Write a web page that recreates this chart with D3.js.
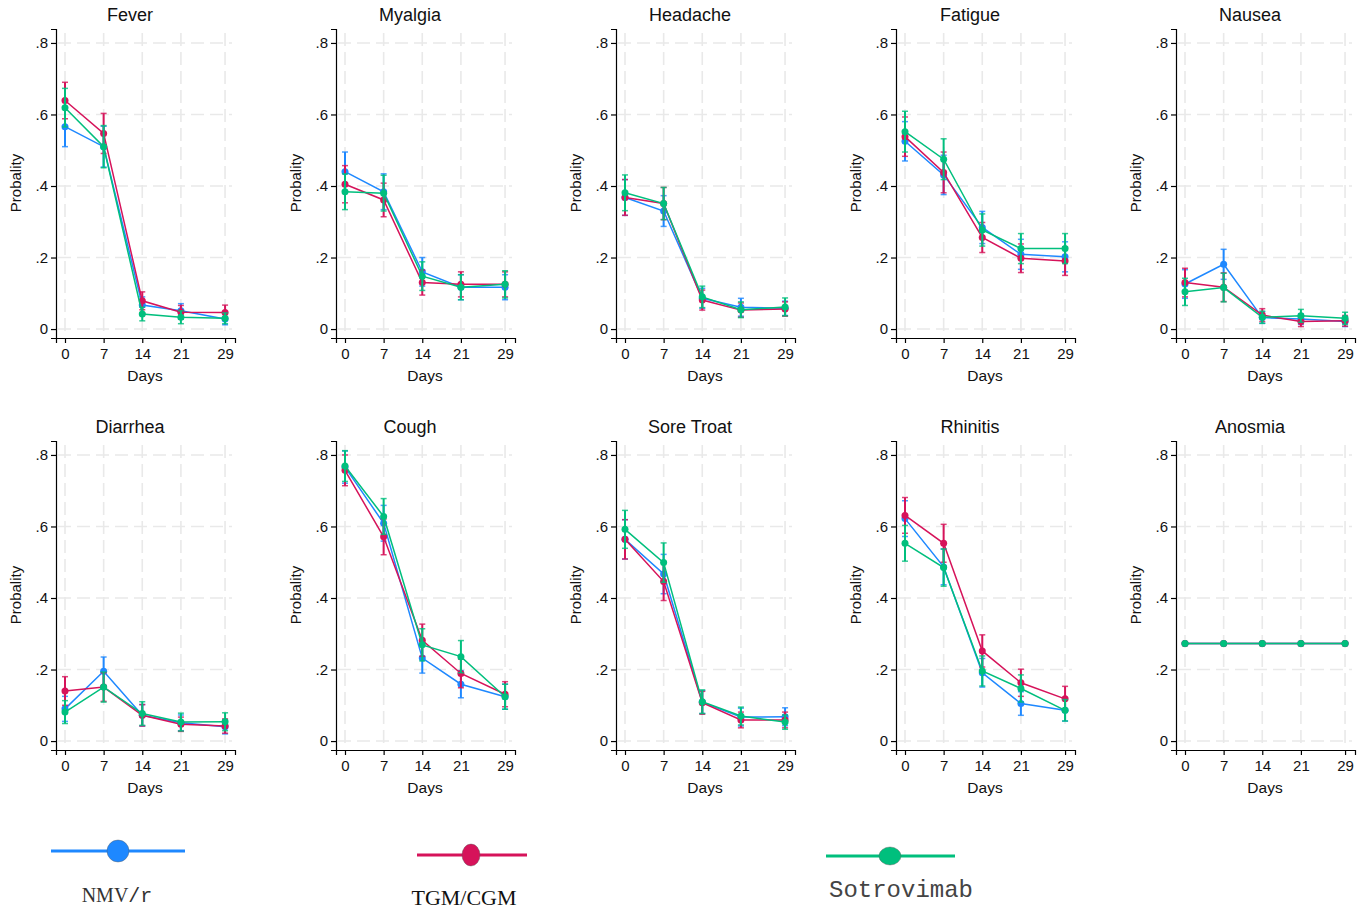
<!DOCTYPE html>
<html lang="en">
<head>
<meta charset="UTF-8">
<title>Symptom probability by day</title>
<style>
  body { margin: 0; background: #fff; }
  svg { display: block; }
  .tick text { font-family: "Liberation Sans", Arial, sans-serif; font-size: 15px; fill: #111; }
  .title { font-family: "Liberation Sans", Arial, sans-serif; font-size: 18px; fill: #111; }
  .lab { font-family: "Liberation Sans", Arial, sans-serif; font-size: 15px; fill: #111; }
</style>
</head>
<body>
<svg width="1365" height="909"></svg>
<script src="https://d3js.org/d3.v7.min.js"></script>
<script>
// symptoms shown as panels, days on x
const symptoms = ["Fever", "Myalgia", "Headache", "Fatigue", "Nausea",
                  "Diarrhea", "Cough", "Sore Troat", "Rhinitis", "Anosmia"];
const days = [0, 7, 14, 21, 29];
const yTicks = [0, 0.2, 0.4, 0.6, 0.8];
const groups = ["NMV/r", "TGM/CGM", "Sotrovimab"];
const colors = ["#1e88ff", "#d6135a", "#00bf7d"];

// estimated probability per symptom (rows) and day (cols)
const nmvMean = [
  [0.566, 0.510, 0.067, 0.051, 0.028],
  [0.440, 0.384, 0.160, 0.117, 0.117],
  [0.368, 0.330, 0.086, 0.061, 0.058],
  [0.525, 0.431, 0.284, 0.209, 0.202],
  [0.126, 0.181, 0.032, 0.028, 0.021],
  [0.090, 0.195, 0.072, 0.051, 0.040],
  [0.766, 0.609, 0.232, 0.159, 0.124],
  [0.564, 0.467, 0.109, 0.067, 0.068],
  [0.622, 0.487, 0.191, 0.105, 0.086],
  [0.273, 0.273, 0.273, 0.273, 0.273]
];
const nmvErr = [
  [0.056, 0.057, 0.023, 0.020, 0.016],
  [0.055, 0.050, 0.040, 0.035, 0.035],
  [0.050, 0.043, 0.028, 0.025, 0.020],
  [0.055, 0.055, 0.045, 0.042, 0.042],
  [0.040, 0.042, 0.016, 0.015, 0.014],
  [0.035, 0.040, 0.030, 0.022, 0.020],
  [0.045, 0.050, 0.042, 0.038, 0.035],
  [0.055, 0.055, 0.032, 0.025, 0.025],
  [0.050, 0.050, 0.040, 0.033, 0.030],
  [0, 0, 0, 0, 0]
];
const tgmMean = [
  [0.639, 0.547, 0.079, 0.047, 0.046],
  [0.405, 0.361, 0.130, 0.125, 0.125],
  [0.368, 0.351, 0.081, 0.053, 0.056],
  [0.538, 0.438, 0.256, 0.198, 0.190],
  [0.130, 0.117, 0.039, 0.021, 0.023],
  [0.140, 0.151, 0.072, 0.047, 0.042],
  [0.757, 0.571, 0.282, 0.189, 0.131],
  [0.564, 0.446, 0.107, 0.059, 0.059],
  [0.631, 0.553, 0.252, 0.163, 0.118],
  [0.273, 0.273, 0.273, 0.273, 0.273]
];
const tgmErr = [
  [0.051, 0.056, 0.025, 0.019, 0.021],
  [0.052, 0.047, 0.035, 0.035, 0.035],
  [0.050, 0.045, 0.028, 0.020, 0.020],
  [0.055, 0.057, 0.042, 0.040, 0.040],
  [0.040, 0.040, 0.018, 0.014, 0.015],
  [0.040, 0.040, 0.030, 0.020, 0.020],
  [0.043, 0.050, 0.045, 0.040, 0.035],
  [0.055, 0.053, 0.032, 0.022, 0.022],
  [0.050, 0.053, 0.045, 0.038, 0.035],
  [0, 0, 0, 0, 0]
];
const sotMean = [
  [0.619, 0.510, 0.042, 0.033, 0.030],
  [0.384, 0.380, 0.148, 0.117, 0.125],
  [0.381, 0.351, 0.090, 0.054, 0.062],
  [0.552, 0.475, 0.277, 0.225, 0.225],
  [0.104, 0.116, 0.033, 0.037, 0.030],
  [0.081, 0.151, 0.077, 0.053, 0.054],
  [0.769, 0.628, 0.269, 0.236, 0.124],
  [0.592, 0.499, 0.110, 0.070, 0.053],
  [0.553, 0.485, 0.196, 0.147, 0.086],
  [0.273, 0.273, 0.273, 0.273, 0.273]
];
const sotErr = [
  [0.054, 0.059, 0.019, 0.018, 0.015],
  [0.050, 0.050, 0.040, 0.035, 0.038],
  [0.050, 0.045, 0.030, 0.022, 0.025],
  [0.057, 0.057, 0.045, 0.042, 0.042],
  [0.038, 0.040, 0.017, 0.018, 0.017],
  [0.032, 0.042, 0.033, 0.025, 0.025],
  [0.043, 0.050, 0.045, 0.045, 0.035],
  [0.053, 0.055, 0.033, 0.025, 0.020],
  [0.050, 0.052, 0.042, 0.038, 0.030],
  [0, 0, 0, 0, 0]
];

const means = [nmvMean, tgmMean, sotMean];
const errs = [nmvErr, tgmErr, sotErr];

const svg = d3.select("svg");

// panel geometry
const colStep = 280, rowStep = 412;
const x = d3.scaleLinear().domain([-1.63, 30.8]).range([56, 235]);
const y = d3.scaleLinear().domain([-0.025, 0.839]).range([338, 29]);
const fmt = d => d === 0 ? "0" : d3.format(".1f")(d).replace(/^0/, "");

symptoms.forEach((name, si) => {
  const g = svg.append("g")
    .attr("transform", `translate(${(si % 5) * colStep},${Math.floor(si / 5) * rowStep})`);

  // dashed grid
  g.selectAll(".hg").data(yTicks).enter().append("line")
    .attr("x1", 58).attr("x2", 232)
    .attr("y1", d => y(d)).attr("y2", d => y(d))
    .attr("stroke", "#e9e9e9").attr("stroke-width", 1.6)
    .attr("stroke-dasharray", "13,6");
  g.selectAll(".vg").data(days).enter().append("line")
    .attr("x1", d => x(d)).attr("x2", d => x(d))
    .attr("y1", 33).attr("y2", 334)
    .attr("stroke", "#e9e9e9").attr("stroke-width", 1.6)
    .attr("stroke-dasharray", "13,6");

  // axes
  const ya = g.append("g").attr("transform", "translate(56,0)")
    .call(d3.axisLeft(y).tickValues(yTicks).tickFormat(fmt).tickSize(5).tickPadding(3));
  const xa = g.append("g").attr("transform", "translate(0,338)")
    .call(d3.axisBottom(x).tickValues(days).tickSize(5).tickPadding(5));
  [ya, xa].forEach(a => {
    a.select(".domain").attr("stroke", "#000").attr("stroke-width", 1.2);
    a.selectAll(".tick line").attr("stroke", "#000").attr("stroke-width", 1.2);
  });

  g.append("text").attr("class", "title")
    .attr("x", 130).attr("y", 21).attr("text-anchor", "middle").text(name);
  g.append("text").attr("class", "lab")
    .attr("transform", "translate(21,183) rotate(-90)")
    .attr("text-anchor", "middle").text("Probality");
  g.append("text").attr("class", "lab").style("font-size", "15.5px")
    .attr("x", 145).attr("y", 381).attr("text-anchor", "middle").text("Days");

  // series
  groups.forEach((grp, k) => {
    const pts = days.map((d, i) => ({ d, m: means[k][si][i], e: errs[k][si][i] }));
    const sg = g.append("g");
    sg.append("path")
      .attr("d", d3.line().x(p => x(p.d)).y(p => y(p.m))(pts))
      .attr("fill", "none").attr("stroke", colors[k]).attr("stroke-width", 1.5);
    const eb = sg.selectAll(".eb").data(pts.filter(p => p.e > 0)).enter().append("g");
    eb.append("line")
      .attr("x1", p => x(p.d)).attr("x2", p => x(p.d))
      .attr("y1", p => y(p.m - p.e)).attr("y2", p => y(p.m + p.e))
      .attr("stroke", colors[k]).attr("stroke-width", 2);
    [-1, 1].forEach(s => {
      eb.append("line")
        .attr("x1", p => x(p.d) - 3).attr("x2", p => x(p.d) + 3)
        .attr("y1", p => y(p.m + s * p.e)).attr("y2", p => y(p.m + s * p.e))
        .attr("stroke", colors[k]).attr("stroke-width", 1.5).attr("opacity", 0.8);
    });
    sg.selectAll("circle").data(pts).enter().append("circle")
      .attr("cx", p => x(p.d)).attr("cy", p => y(p.m)).attr("r", 3.5)
      .attr("fill", colors[k]);
  });
});

// legend
const legend = [
  { x1: 51, x2: 185, cx: 118, y: 851, rx: 11, ry: 11, tx: 117, ty: 902 },
  { x1: 417, x2: 527, cx: 471, y: 855, rx: 9, ry: 11, tx: 464, ty: 905 },
  { x1: 826, x2: 955, cx: 890, y: 856, rx: 11, ry: 9, tx: 901, ty: 897 }
];
legend.forEach((l, k) => {
  svg.append("line").attr("x1", l.x1).attr("x2", l.x2).attr("y1", l.y).attr("y2", l.y)
    .attr("stroke", colors[k]).attr("stroke-width", 3);
  svg.append("ellipse").attr("cx", l.cx).attr("cy", l.y).attr("rx", l.rx).attr("ry", l.ry)
    .attr("fill", colors[k]).attr("stroke", "#555").attr("stroke-width", 0.4);
});
const t0 = svg.append("text").attr("x", legend[0].tx).attr("y", legend[0].ty)
  .attr("text-anchor", "middle").attr("fill", "#333").attr("font-size", 20);
t0.append("tspan").attr("font-family", "Liberation Serif, serif").text(groups[0].slice(0, 3));
t0.append("tspan").attr("font-family", "Liberation Mono, monospace").text(groups[0].slice(3));
svg.append("text").attr("x", legend[1].tx).attr("y", legend[1].ty)
  .attr("text-anchor", "middle").attr("fill", "#111").attr("font-size", 22)
  .attr("font-family", "Liberation Serif, serif").text(groups[1]);
svg.append("text").attr("x", legend[2].tx).attr("y", legend[2].ty)
  .attr("text-anchor", "middle").attr("fill", "#444").attr("font-size", 24)
  .attr("font-family", "Liberation Mono, monospace").text(groups[2]);
</script>
</body>
</html>
